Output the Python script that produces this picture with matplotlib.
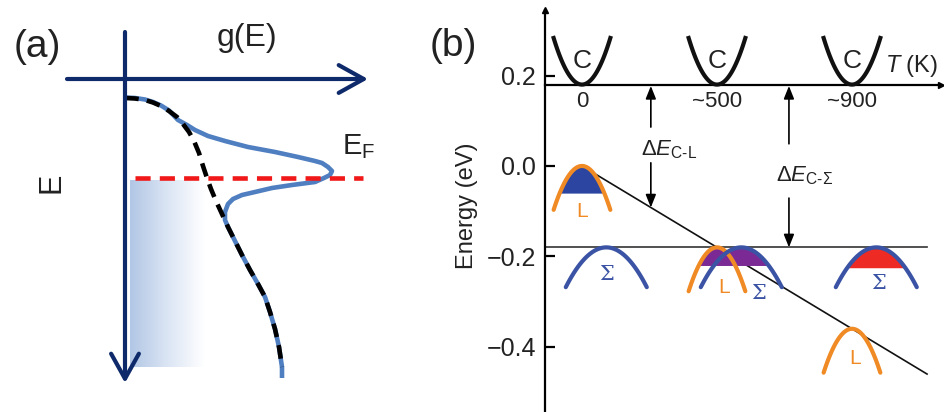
import numpy as np
import matplotlib
matplotlib.use("Agg")
import matplotlib.pyplot as plt
from matplotlib.colors import LinearSegmentedColormap

plt.rcParams['font.family'] = ['Liberation Sans', 'DejaVu Sans']
plt.rcParams['mathtext.fontset'] = 'custom'
plt.rcParams['mathtext.rm'] = 'Liberation Sans'
plt.rcParams['mathtext.it'] = 'Liberation Sans:italic'
plt.rcParams['mathtext.bf'] = 'Liberation Sans:bold'

# ---------------- panel (a): density of states (E grows downward) ----------------
# host band DOS (black dashed)
dos_g = [0.00, 0.10, 0.20, 0.28, 0.36, 0.44, 0.52, 0.58, 0.64, 0.69, 0.74, 0.78, 0.82,
         0.86, 0.91, 0.97, 1.03, 1.10, 1.17, 1.25, 1.33, 1.40, 1.45, 1.50, 1.54, 1.57]
dos_E = [0.19, 0.195, 0.21, 0.235, 0.27, 0.32, 0.38, 0.45, 0.53, 0.62, 0.74, 0.87, 0.99,
         1.10, 1.22, 1.35, 1.48, 1.62, 1.76, 1.91, 2.05, 2.18, 2.33, 2.50, 2.68, 2.88]
# DOS with resonant level near E_F (blue)
res_g = [0.00, 0.10, 0.20, 0.28, 0.36, 0.44, 0.53, 0.62, 0.70, 0.83, 1.00, 1.23, 1.50,
         1.73, 1.90, 1.97, 2.03, 2.07, 2.05, 1.99, 1.90, 1.67, 1.47, 1.30, 1.17, 1.08,
         1.03, 1.00, 1.00, 1.03, 1.10, 1.17, 1.25, 1.33, 1.40, 1.45, 1.50, 1.54, 1.57, 1.57]
res_E = [0.185, 0.19, 0.205, 0.23, 0.265, 0.315, 0.41, 0.46, 0.51, 0.57, 0.62, 0.68, 0.73,
         0.78, 0.82, 0.84, 0.88, 0.92, 0.96, 0.99, 1.03, 1.06, 1.09, 1.13, 1.16, 1.20,
         1.25, 1.33, 1.41, 1.48, 1.62, 1.76, 1.91, 2.05, 2.18, 2.33, 2.50, 2.68, 2.88, 2.99]
E_fermi = 0.99

# ---------------- panel (b): band edges vs temperature ----------------
temps = ['0', '~500', '~900']
E_C = [0.18, 0.18, 0.18]
E_L = [0.0, -0.18, -0.36]
E_Sigma = [-0.18, -0.18, -0.18]
fill_level = [-0.06, -0.22, -0.225]
fill_colors = ['#2b45a0', '#7b2a95', '#ee2a24']
energy_ticks = [0.2, 0.0, -0.2, -0.4]
energy_ticklabels = ['0.2', '0.0', '\u22120.2', '\u22120.4']

navy = '#0e2a6b'
orange = '#f08a24'
sig_blue = '#3b53a4'

fig = plt.figure(figsize=(9.45, 4.12), dpi=100)

# ================= panel (a) =================
axa = fig.add_axes([0, 0, 420 / 945, 1])
axa.set_xlim(-1.25, 2.95)
axa.set_ylim(3.33, -0.79)
axa.axis('off')

# shaded occupied states below E_F
cmap = LinearSegmentedColormap.from_list('fade', ['#b2c6e5', '#dbe5f4', '#ffffff'])
axa.imshow(np.linspace(0, 1, 200)[None, :], cmap=cmap, aspect='auto',
           extent=(0.05, 0.80, 2.88, 1.01), zorder=1, interpolation='bilinear')

arrow_kw = dict(arrowstyle='->,head_length=0.9,head_width=0.5', color=navy, lw=3,
                mutation_scale=20, shrinkA=0, shrinkB=0)
axa.annotate('', xy=(0, 3.04), xytext=(0, -0.47), arrowprops=arrow_kw, zorder=6)
axa.annotate('', xy=(2.43, 0), xytext=(-0.58, 0), arrowprops=arrow_kw, zorder=6)

axa.plot(res_g, res_E, color='#4f7fc0', lw=3.3, zorder=3, solid_capstyle='butt')
axa.plot([0.10, 2.38], [E_fermi, E_fermi], color='#f01818', lw=3.3,
         dashes=(3.3, 2.0), zorder=4)
axa.plot(dos_g, dos_E, color='black', lw=3.3, dashes=(3.0, 1.8), zorder=5)

axa.text(-0.88, -0.32, '(a)', fontsize=28, ha='center', va='center', color='#222222')
axa.text(1.22, -0.41, 'g(E)', fontsize=23, ha='center', va='center', color='#222222')
axa.text(-0.73, 1.04, 'E', fontsize=22, rotation=90, ha='center', va='center',
         color='#222222')
axa.text(2.17, 0.68, r'E$_{\mathrm{F}}$', fontsize=21, ha='left', va='center',
         color='#222222')

# ================= panel (b) =================
axb = fig.add_axes([545 / 945, 0, 400 / 945, 1])
axb.set_xlim(-0.274, 2.689)
axb.set_ylim(-0.544, 0.367)
for side in ['top', 'right', 'bottom']:
    axb.spines[side].set_visible(False)
axb.spines['left'].set_bounds(-0.544, 0.345)
axb.spines['left'].set_linewidth(1.6)
axb.set_xticks([])
axb.set_yticks(energy_ticks)
axb.set_yticklabels(energy_ticklabels)
axb.tick_params(axis='y', direction='in', length=7, width=1.6, pad=6.5, labelsize=18,
                labelcolor='#222222')
axb.text(-0.195, 0.5, 'Energy (eV)', transform=axb.transAxes, rotation=90,
         ha='center', va='center', fontsize=17, color='#222222')
axb.plot([-0.274], [0.345], marker='^', ms=5, color='black', clip_on=False)
axb.text(-0.956, 0.265, '(b)', fontsize=28, ha='center', va='center',
         color='#222222', clip_on=False)

cols = np.arange(len(temps))


def parabola(x0, E0, half_w, depth, sign, n=80):
    dx = np.linspace(-half_w, half_w, n)
    return x0 + dx, E0 + sign * depth * (dx / half_w) ** 2


# temperature axis at the conduction band minimum
axb.plot([-0.274, 2.66], [E_C[0], E_C[0]], color='black', lw=1.6, clip_on=False)
axb.plot([2.66], [E_C[0]], marker='>', ms=5, color='black', clip_on=False)
axb.text(2.44, 0.221, r'$T$ (K)', fontsize=17, ha='center', va='center', color='#222222')

# Sigma band edge level and the drifting L band edge
axb.plot([-0.274, 2.556], [E_Sigma[0], E_Sigma[0]], color='#333333', lw=1.2)
slope = (E_L[2] - E_L[0]) / (cols[2] - cols[0])
x_line = np.array([0.08, 2.556])
axb.plot(x_line, E_L[0] + slope * x_line, color='#111111', lw=1.2, zorder=2)

sig_dx = 0.18
for i, x0 in enumerate(cols):
    # conduction band
    xc, ec = parabola(x0, E_C[i], 0.21, 0.103, 1)
    axb.plot(xc, ec, color='#111111', lw=3, zorder=4)
    axb.text(x0, 0.232, 'C', fontsize=19, ha='center', va='center', color='#222222')
    axb.text(x0, 0.142, temps[i], fontsize=16, ha='center', va='center', color='#222222')

    # valence bands L and Sigma
    xl, el = parabola(x0, E_L[i], 0.21, 0.097, -1)
    xs, es = parabola(x0 + sig_dx, E_Sigma[i], 0.30, 0.088, -1)

    # filled (hole-occupied) part of the band(s) at the top
    lvl = fill_level[i]
    if i == 0:
        axb.fill_between(xl, el, lvl, where=el >= lvl, color=fill_colors[i], lw=0, zorder=3)
    elif i == 2:
        axb.fill_between(xs, es, lvl, where=es >= lvl, color=fill_colors[i], lw=0, zorder=3)
    else:
        xx = np.linspace(xl[0], xs[-1], 300)
        top = np.maximum(np.interp(xx, xl, el, left=-9, right=-9),
                         np.interp(xx, xs, es, left=-9, right=-9))
        axb.fill_between(xx, top, lvl, where=top >= lvl, color=fill_colors[i], lw=0,
                         zorder=3, interpolate=True)

    axb.plot(xl, el, color=orange, lw=3, zorder=4, solid_capstyle='round')
    axb.plot(xs, es, color=sig_blue, lw=3, zorder=5, solid_capstyle='round')

L_label_pos = [(0.0, -0.10), (1.05, -0.268), (2.02, -0.425)]
S_label_pos = [(0.18, -0.239), (1.31, -0.281), (2.20, -0.259)]
for (lx, ly), (sx, sy) in zip(L_label_pos, S_label_pos):
    axb.text(lx, ly, 'L', fontsize=15, color=orange, ha='center', va='center', zorder=6)
    axb.text(sx, sy, '\u03a3', fontsize=15, color=sig_blue, ha='center', va='center',
             family='DejaVu Serif', zorder=6)

# energy separations
ar = dict(arrowstyle='-|>,head_length=0.55,head_width=0.22', color='black', lw=1.2,
          mutation_scale=14, shrinkA=0, shrinkB=0)
x_cl = 0.51
axb.annotate('', xy=(x_cl, 0.177), xytext=(x_cl, 0.086), arrowprops=ar)
axb.annotate('', xy=(x_cl, E_L[0] + slope * x_cl), xytext=(x_cl, 0.007), arrowprops=ar)
axb.text(0.645, 0.035, r'$\Delta E_{\mathrm{C}\text{-}\mathrm{L}}$', fontsize=16,
         ha='center', va='center', color='#222222')
x_cs = 1.533
axb.annotate('', xy=(x_cs, 0.177), xytext=(x_cs, 0.049), arrowprops=ar)
axb.annotate('', xy=(x_cs, E_Sigma[0]), xytext=(x_cs, -0.071), arrowprops=ar)
axb.text(1.65, -0.022, r'$\Delta E_{\mathrm{C}\text{-}\Sigma}$', fontsize=16,
         ha='center', va='center', color='#222222')

fig.savefig('out.png', dpi=100)
